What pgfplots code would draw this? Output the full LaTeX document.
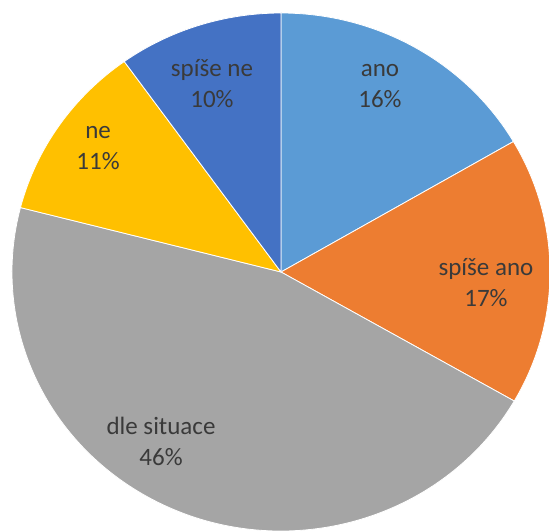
\documentclass[border=0pt]{standalone}
\usepackage{pgfplots}
\usepackage{pgfplotstable}
\pgfplotsset{compat=1.18}
\usepackage{fontspec}
\setmainfont{Carlito}
\definecolor{cano}{HTML}{5B9BD5}
\definecolor{cspano}{HTML}{ED7D31}
\definecolor{cdle}{HTML}{A5A5A5}
\definecolor{cne}{HTML}{FFC000}
\definecolor{cspne}{HTML}{4472C4}
\definecolor{lbl}{HTML}{3A3A3A}
\pgfplotstableread{
value
16.6
16.7
45.7
11.1
9.9
}\piedata
\begin{document}
\begin{tikzpicture}
\pgfplotstablegetelem{0}{value}\of\piedata \let\vA\pgfplotsretval
\pgfplotstablegetelem{1}{value}\of\piedata \let\vB\pgfplotsretval
\pgfplotstablegetelem{2}{value}\of\piedata \let\vC\pgfplotsretval
\pgfplotstablegetelem{3}{value}\of\piedata \let\vD\pgfplotsretval
\pgfplotstablegetelem{4}{value}\of\piedata \let\vE\pgfplotsretval
\pgfmathsetmacro\aA{90}
\pgfmathsetmacro\aB{\aA-3.6*\vA}
\pgfmathsetmacro\aC{\aB-3.6*\vB}
\pgfmathsetmacro\aD{\aC-3.6*\vC}
\pgfmathsetmacro\aE{\aD-3.6*\vD}
\pgfmathsetmacro\aF{\aE-3.6*\vE}
\begin{axis}[
  x=269bp, y=259bp,
  xmin=-1.04461, xmax=0.99628,
  ymin=-1, ymax=1.05019,
  hide axis, clip=false,
]
\coordinate (ll) at (rel axis cs:0,0);
\coordinate (ur) at (rel axis cs:1,1);
\fill[cano, draw=white, line width=0.8bp] (axis cs:0,0) -- (axis cs:{cos(\aA)},{sin(\aA)}) arc[start angle=\aA, end angle=\aB, x radius=269bp, y radius=259bp] -- cycle;
\fill[cspano, draw=white, line width=0.8bp] (axis cs:0,0) -- (axis cs:{cos(\aB)},{sin(\aB)}) arc[start angle=\aB, end angle=\aC, x radius=269bp, y radius=259bp] -- cycle;
\fill[cdle, draw=white, line width=0.8bp] (axis cs:0,0) -- (axis cs:{cos(\aC)},{sin(\aC)}) arc[start angle=\aC, end angle=\aD, x radius=269bp, y radius=259bp] -- cycle;
\fill[cne, draw=white, line width=0.8bp] (axis cs:0,0) -- (axis cs:{cos(\aD)},{sin(\aD)}) arc[start angle=\aD, end angle=\aE, x radius=269bp, y radius=259bp] -- cycle;
\fill[cspne, draw=white, line width=0.8bp] (axis cs:0,0) -- (axis cs:{cos(\aE)},{sin(\aE)}) arc[start angle=\aE, end angle=\aF, x radius=269bp, y radius=259bp] -- cycle;
\tikzset{lab/.style={align=center, text=lbl, font=\fontsize{25bp}{31bp}\selectfont, inner sep=0pt}}
\node[lab] at (axis cs:0.368,0.718) {ano\\16\%};
\node[lab] at (axis cs:0.762,-0.039) {spíše ano\\17\%};
\node[lab] at (axis cs:-0.446,-0.653) {dle situace\\46\%};
\node[lab] at (axis cs:-0.680,0.479) {ne\\11\%};
\node[lab] at (axis cs:-0.2565,0.726) {spíše ne\\10\%};
\end{axis}
\pgfresetboundingbox
\useasboundingbox (ll) rectangle (ur);
\end{tikzpicture}
\end{document}
